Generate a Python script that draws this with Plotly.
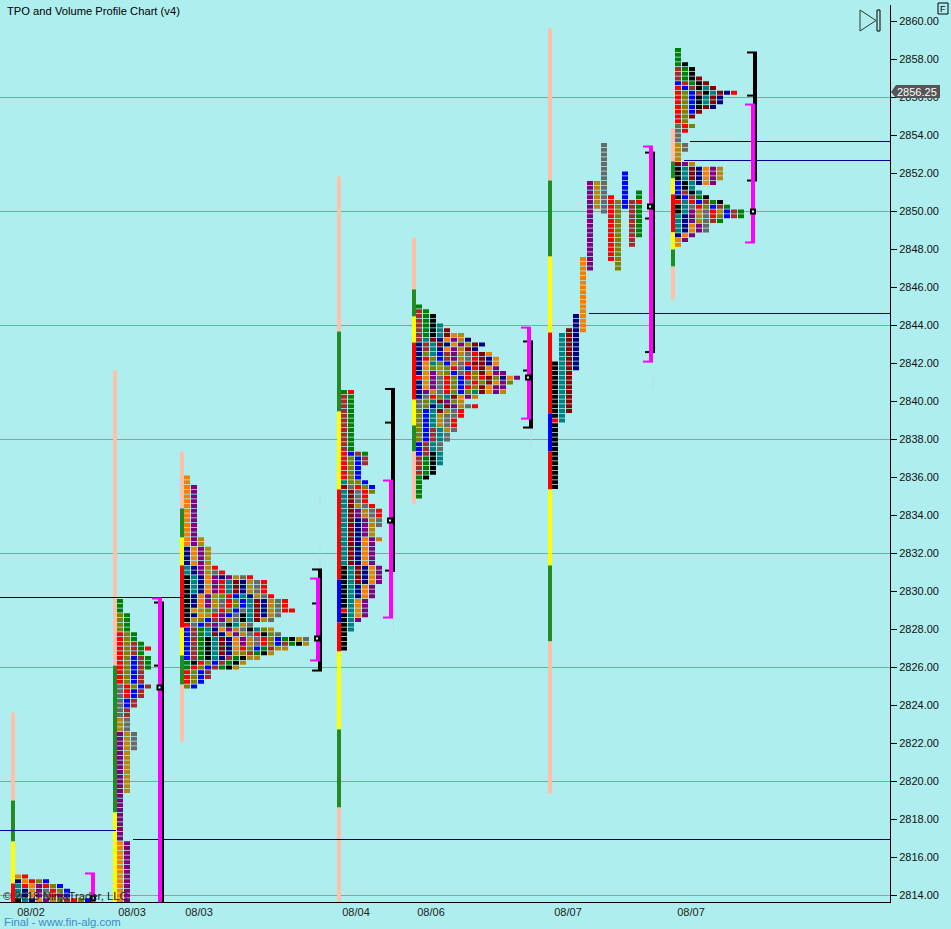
import plotly.graph_objects as go

PLOT_W, PLOT_H = 890, 897
PRICE_MIN, PRICE_MAX = 2813.658, 2860.868

CELL_COLORS = {"K": "#000000", "T": "#008080", "N": "#000080", "O": "#f58000", "P": "#800080",
               "D": "#b8860b", "G": "#696969", "R": "#ff0000", "M": "#8b0000", "L": "#808000",
               "B": "#0000ff", "W": "#a52a2a", "F": "#008000"}
BG = "#afeeee"
PINK = "#ff00ff"

PRICE_TICKS_STEP = 2
GRID_PRICES = [2814, 2820, 2826, 2832, 2838, 2844, 2850, 2856]
DATE_POS = [31, 132, 199, 356, 431, 568, 691]
DATE_LABELS = ["08/02", "08/03", "08/03", "08/04", "08/06", "08/07", "08/07"]

LEVEL_PRICE = [2829.684, 2817.421, 2816.947, 2844.632, 2853.684, 2852.684]
LEVEL_FROM = [0, 0, 133, 589, 690, 684]
LEVEL_TO = [183, 116, 890, 890, 890, 890]
LEVEL_COLOR = ["#000060", "#000090", "#000060", "#000090", "#000060", "#000090"]

# session bars: centre, price edges top to bottom, colours between edges
PE, GR, YE, RE, BL = "#ffc0a8", "#228b22", "#ffff00", "#ff0000", "#0000ff"
SESSION_X = [13, 115, 182, 339, 414, 550, 673]
SESSION_EDGES = [
    [2823.63, 2819.0, 2816.84, 2814.63, 2813.0],
    [2841.63, 2826.1, 2818.37, 2813.0],
    [2837.37, 2834.37, 2832.84, 2831.37, 2828.1, 2826.63, 2825.1, 2822.1],
    [2851.84, 2843.68, 2839.47, 2835.37, 2830.63, 2828.37, 2826.84, 2822.74, 2818.63, 2813.0],
    [2848.63, 2845.9, 2844.47, 2843.1, 2840.1, 2838.74, 2837.37, 2834.63],
    [2859.63, 2851.63, 2847.63, 2843.63, 2839.37, 2837.37, 2835.37, 2831.37, 2827.37, 2819.37],
    [2854.37, 2852.63, 2851.74, 2850.9, 2848.9, 2848.0, 2847.1, 2845.37],
]
SESSION_COLORS = [
    [PE, GR, YE, RE],
    [PE, GR, YE],
    [PE, GR, YE, RE, YE, GR, PE],
    [PE, GR, YE, RE, BL, RE, YE, GR, PE],
    [PE, GR, YE, RE, YE, GR, PE],
    [PE, GR, YE, RE, BL, RE, YE, GR, PE],
    [PE, GR, YE, RE, YE, GR, PE],
]

P1_ROWS = ["OR", "NORLB", "TROPRLB", "TNOPGRLB", "TNOPGRPB", "KTNOPDLWRLB"]
P2_ROWS = (["F"] * 3 + ["LF"] * 4 + ["RLF"] * 2 + ["RLWF", "RLWFR", "RLWF"] + ["RLBWF"] * 3 + ["RLBW"] * 3
           + ["GRLBW", "GRBW", "GRBW", "GBW", "GBW", "GW", "GW", "DG", "DG", "DG"] + ["PDG"] * 4
           + ["PD"] * 9 + ["P"] * 10 + ["OP"] * 13)
P3_ROWS = (["O", "O"] + ["OP"] * 11 + ["OPD"] * 2 + ["NOPD"] * 4 + [
    "TNPDR", "TNPDGR", "KTNOPNPDGR", "KTNOPRTMNDGR", "KTNOPRTMNDGR", "KTNOPRTMNDGR",
    "KNOPDLRBTNDGR", "KNOPDGRLBTMNDGR", "KNOPDGRLBTMNDGR", "KODLGRLBGTMNDGRR", "KNODRPBGKTMNDG",
    "KDLBWPDGKTMDG", "RGBWPGKTDG", "BWFTNOPDGKTLD", "BWFTMNOPDGRKLG", "BWFKTMNOPDGRLBFKDG",
    "BWFKTMNOPDGRLBWFKD", "BWFKTMNORLBFWDD", "BWFKTMNDLWFKD", "BWFKTNWFKDD", "FKRLBWFKD",
    "FRLBWFKD", "RLBW", "RLBW", "RLB", "LB"])
P4_ROWS = (["FR"] + ["WF"] * 12 + [
    "RBWF", "RLBW", "RLBW", "RLB", "RLB", "RLB", "TLLB", "MGRLB", "TMGRL", "TMGR", "TMGR", "TMDGR",
    "TMPDGR", "TMPDGR", "TMNPDG", "TMNPDG", "TMNPD", "TMNPD", "TMNOPD"]
    + ["TMNOP"] * 5 + ["KTMNOP"] * 4 + ["KTNOP"] * 3 + ["KTOP"] * 2
    + ["RTOP", "KTOP", "KTP", "KT", "KT", "K", "K", "K", "K"])
P5_ROWS = ["F", "WF", "WFK", "WFK", "WFKT", "WFKTM", "WFKTMOD", "WTMNOPDN", "NWTMNOPDMN", "NWTNOPDMN",
           "NLTBWPDGRMO", "NRLBWPDGRMNO", "NOTLBDGRMMNO", "NOLDLRGBRMOP", "NOPDLBGRLMOPP",
           "ROPGRLBRLRMLNOP", "NOPGRLBGRLMOPL", "NOPGRLBRLMOPP", "NPDGRLBLTMOPD", "NGRLTMOPD",
           "GLTMPLD", "GLNTMPDGR", "LBTMDGR", "LBTDGGR", "LBTDGR", "LBTDGR", "LBWTDG", "LBWTG", "LBWTG",
           "BWTG", "BWTG", "BWKT", "WFKT", "WFKT", "WFK", "WFK", "FK", "F", "F", "F", "F"]
P7_ROWS = ["F", "F", "F", "FK", "WFK", "WFK", "WFKM", "BWFKM", "RBWKTM", "RLBWKTMNR", "RLBKTMN", "RLBKTMN",
           "RLBKMN", "RLBM", "RLM", "RL", "GRL", "GR", "G", "G", "DG", "DG", "D", "D", "MPD", "KTMNOPD",
           "KTMNOPD", "KTMNOPD", "BKTNOP", "BKT", "BWKT", "KBWFK", "RTRBWFK", "KTGRLBWF", "KTPDGRDBWF",
           "TNPDGRLBWF", "TNPDGWF", "TNOPG", "TNOPG", "NOP", "OP", "O"]
# session six is a staircase: colour, top price, bottom price per column
P6_COLUMNS = [("K", 2842.0, 2835.5), ("T", 2843.5, 2839.0), ("M", 2843.75, 2839.5), ("N", 2844.5, 2841.75),
              ("O", 2847.5, 2843.75), ("P", 2851.5, 2847.0), ("D", 2851.5, 2850.25), ("G", 2853.5, 2850.0),
              ("R", 2850.75, 2847.5), ("L", 2850.5, 2847.0), ("B", 2852.0, 2850.25), ("W", 2850.5, 2848.25),
              ("F", 2851.0, 2848.75)]
P6_ODD = {(0, 2839.0): "R", (12, 2850.5): "R"}

PROFILE_ROWS = [P1_ROWS, P2_ROWS, P3_ROWS, P4_ROWS, P5_ROWS, P7_ROWS]
PROFILE_TOP = [2815.0, 2829.5, 2836.0, 2840.5, 2845.0, 2858.5]
PROFILE_START = [15, 117, 184, 341, 416, 675]
P6_START = 552
COL_PITCH, CELL_W, CELL_H, TICK = 7, 6, 0.21, 0.25

# value-area brackets
PINK_X = [93, 160, 318, 391, 529, 651, 753]
PINK_TOP = [2815.16, 2829.63, 2830.68, 2835.84, 2843.89, 2853.42, 2855.63]
PINK_BOT = [2813.0, 2813.0, 2826.37, 2828.63, 2839.1, 2842.1, 2848.37]
BLACK_X = [162, 320, 393, 531, 653, 755]
BLACK_TOP = [2829.42, 2831.16, 2840.66, 2843.16, 2853.1, 2858.37]
BLACK_BOT = [2813.0, 2825.84, 2831.05, 2838.63, 2842.58, 2851.63]
BLACK_TICKS = [[2829.42, 2826.1], [2831.16, 2829.37, 2825.84], [2840.66, 2838.89, 2831.1],
               [2843.16, 2841.63, 2838.63], [2853.1, 2849.63, 2842.6], [2858.37, 2856.1, 2851.63]]
POC_X = [93, 159.5, 317, 390, 528, 650, 753]
POC_PRICE = [2813.85, 2824.95, 2827.53, 2833.74, 2841.26, 2850.26, 2850.0]
FAINT_X = [320, 320, 393.5, 531, 653, 755]
FAINT_TOP = [2835.05, 2832.32, 2831.0, 2844.05, 2841.3, 2850.58]
FAINT_BOT = [2834.63, 2831.1, 2827.84, 2837.63, 2840.68, 2849.74]

fig = go.Figure()


def line(xs, ys, color, width, dash=None):
    fig.add_trace(go.Scatter(x=xs, y=ys, mode="lines", line=dict(color=color, width=width, dash=dash),
                             hoverinfo="skip", showlegend=False, connectgaps=False))


# level lines
for p, a, b, c in zip(LEVEL_PRICE, LEVEL_FROM, LEVEL_TO, LEVEL_COLOR):
    line([a, b], [p, p], c, 1)

# faint dashes
fx, fy = [], []
for x, t, b in zip(FAINT_X, FAINT_TOP, FAINT_BOT):
    fx += [x, x, None]
    fy += [t, b, None]
line(fx, fy, "#c2ccf6", 1, "2px,1px")

# session bars
sx, sb, sh, sc = [], [], [], []
for x, edges, cols in zip(SESSION_X, SESSION_EDGES, SESSION_COLORS):
    for i, c in enumerate(cols):
        sx.append(x)
        sb.append(edges[i + 1])
        sh.append(edges[i] - edges[i + 1])
        sc.append(c)
fig.add_trace(go.Bar(x=sx, y=sh, base=sb, width=4, marker=dict(color=sc, line=dict(width=0)),
                     hoverinfo="skip", showlegend=False))

# TPO cells
cells = {k: ([], []) for k in CELL_COLORS}
for rows, top, start in zip(PROFILE_ROWS, PROFILE_TOP, PROFILE_START):
    for r, row in enumerate(rows):
        price = top - r * TICK
        for c, letter in enumerate(row):
            cells[letter][0].append(start + CELL_W / 2 + c * COL_PITCH)
            cells[letter][1].append(price)
for c, (letter, hi, lo) in enumerate(P6_COLUMNS):
    n = int(round((hi - lo) / TICK))
    for r in range(n + 1):
        price = hi - r * TICK
        use = P6_ODD.get((c, price), letter)
        cells[use][0].append(P6_START + CELL_W / 2 + c * COL_PITCH)
        cells[use][1].append(price)
for letter, (xs, ps) in cells.items():
    fig.add_trace(go.Bar(x=xs, y=[CELL_H] * len(xs), base=[p - CELL_H / 2 for p in ps], width=CELL_W,
                         marker=dict(color=CELL_COLORS[letter], line=dict(width=0)),
                         hoverinfo="skip", showlegend=False))

# black brackets
bx, by = [], []
for x, t, b in zip(BLACK_X, BLACK_TOP, BLACK_BOT):
    bx += [x, x, None]
    by += [t, b, None]
line(bx, by, "#000000", 4)
tx, ty = [], []
for x, ticks in zip(BLACK_X, BLACK_TICKS):
    for p in ticks:
        tx += [x - 8, x + 2, None]
        ty += [p, p, None]
line(tx, ty, "#000000", 2)

# pink brackets
px_, py_ = [], []
for x, t, b in zip(PINK_X, PINK_TOP, PINK_BOT):
    px_ += [x, x, None]
    py_ += [t, b, None]
line(px_, py_, PINK, 4)
cx, cy = [], []
for x, t, b in zip(PINK_X, PINK_TOP, PINK_BOT):
    cx += [x - 8, x + 2, None, x - 8, x + 2, None]
    cy += [t, t, None, b, b, None]
line(cx, cy, PINK, 2)

# point of control markers
fig.add_trace(go.Scatter(x=POC_X, y=POC_PRICE, mode="markers", hoverinfo="skip", showlegend=False, cliponaxis=False,
                         marker=dict(symbol="square", size=4, color="#e8ffff", line=dict(color="#000000", width=2))))

shapes = [dict(type="line", xref="paper", x0=0, x1=1, yref="y", y0=p, y1=p, layer="below",
               line=dict(color="#9a9a9a", width=1)) for p in GRID_PRICES]


def fx_(px):
    return px / PLOT_W


def fy_(py):
    return 1 - (py - 5) / PLOT_H


# price tag
tag = (f"M {fx_(891)} {fy_(92)} L {fx_(896)} {fy_(85)} L {fx_(940)} {fy_(85)} "
       f"L {fx_(940)} {fy_(98)} L {fx_(896)} {fy_(98)} Z")
shapes.append(dict(type="path", xref="paper", yref="paper", path=tag, fillcolor="#555555", line=dict(width=0), layer="above"))
# play icon
play = (f"M {fx_(860)} {fy_(10)} L {fx_(876)} {fy_(20.5)} L {fx_(860)} {fy_(31)} Z")
shapes.append(dict(type="path", xref="paper", yref="paper", path=play, fillcolor="rgba(0,0,0,0)",
                   line=dict(color="#333333", width=1)))
shapes.append(dict(type="rect", xref="paper", yref="paper", x0=fx_(877), x1=fx_(880), y0=fy_(10), y1=fy_(31),
                   fillcolor="rgba(0,0,0,0)", line=dict(color="#000000", width=1)))
# F box
shapes.append(dict(type="rect", xref="paper", yref="paper", x0=fx_(938), x1=fx_(948), y0=fy_(3), y1=fy_(14),
                   fillcolor="rgba(0,0,0,0)", line=dict(color="#000000", width=1)))


def note(text, x, y, size, color, anchor="left"):
    return dict(text=text, xref="paper", yref="paper", x=fx_(x), y=fy_(y), showarrow=False, xanchor=anchor,
                yanchor="middle", font=dict(family="Liberation Sans", size=size, color=color))


annotations = [
    note("TPO and Volume Profile Chart (v4)", 5, 11, 11.2, "#000000"),
    note("© 2018 NinjaTrader, LLC", 1, 896, 11.3, "#222222"),
    note("Final - www.fin-alg.com", 2, 922, 11.3, "#3c8cc4"),
    note("2856.25", 917, 91.5, 11, "#ffffff", "center"),
    note("F", 943, 8.5, 9, "#000000", "center"),
]

fig.update_layout(
    width=951, height=929, autosize=False,
    margin=dict(l=0, r=61, t=5, b=27, pad=0),
    paper_bgcolor=BG, plot_bgcolor=BG,
    barmode="overlay", showlegend=False,
    shapes=shapes, annotations=annotations,
    font=dict(family="Liberation Sans", size=11, color="#111111"),
    xaxis=dict(range=[0, PLOT_W], showgrid=False, zeroline=False, showline=True, linecolor="#000000", linewidth=1,
               tickmode="array", tickvals=DATE_POS, ticktext=DATE_LABELS, ticks="", tickfont=dict(size=11, color="#222222")),
    yaxis=dict(range=[PRICE_MIN, PRICE_MAX], side="right", showgrid=False, zeroline=False, showline=True,
               linecolor="#000000", linewidth=1, ticks="outside", ticklen=6, tickcolor="#000000", tickwidth=1,
               dtick=PRICE_TICKS_STEP, tick0=2814, tickformat=".2f", tickfont=dict(size=11, color="#111111")),
)
fig.write_html("out.html", config={"displayModeBar": False},
               post_script="document.body.style.margin='0';document.documentElement.style.overflow='hidden';")
